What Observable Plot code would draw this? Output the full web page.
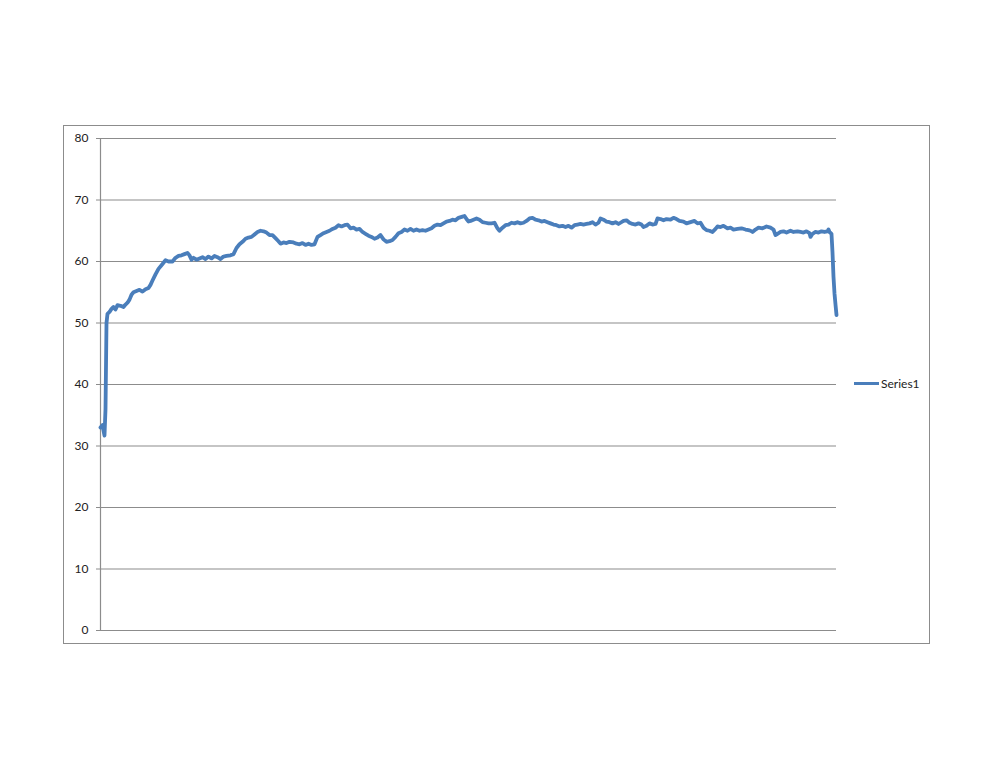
<!DOCTYPE html>
<html>
<head>
<meta charset="utf-8">
<script src="https://cdn.jsdelivr.net/npm/d3@7"></script>
<script src="https://cdn.jsdelivr.net/npm/@observablehq/plot@0.6"></script>
<style>
  html, body { margin: 0; padding: 0; background: #fff; }
  #wrap { position: relative; width: 993px; height: 768px; overflow: hidden; }
  #frame { position: absolute; left: 63px; top: 125px; width: 865px; height: 517px; border: 1px solid #8c8c8c; box-sizing: content-box; pointer-events: none; }
  #legend { position: absolute; left: 854px; top: 376px; font: 12px Lato, "Open Sans", sans-serif; color: #222; display: flex; align-items: center; }
  #legend .sw { display: inline-block; width: 25px; height: 3.5px; background: #4a7ebb; margin-right: 2px; }
  #chart { position: absolute; left: 0; top: 0; }
</style>
</head>
<body>
<div id="wrap">
  <div id="chart"></div>
  <div id="frame"></div>
  <div id="legend"><span class="sw"></span><span>Series1</span></div>
</div>
<script>
const seriesName = "Series1";
const yTicks = [0, 10, 20, 30, 40, 50, 60, 70, 80];
const samples = [0,2,3,4,5,6,7,9,11,13,15,17,20,23,25,27,29,31,33,36,39,42,45,48,50,52,55,58,61,65,68,72,75,78,81,84,87,89,91,93,96,99,102,105,108,111,114,117,120,123,126,130,133,136,139,142,145,148,151,154,157,160,163,166,169,172,175,178,180,183,186,189,193,196,199,202,205,208,211,214,217,220,223,226,229,232,235,238,241,244,247,250,253,256,259,262,265,268,271,274,277,280,283,286,289,292,295,298,301,304,307,310,313,316,319,322,325,328,331,334,337,340,343,346,349,352,355,358,362,364,366,368,370,373,376,379,382,385,388,391,394,397,399,402,405,408,411,414,417,420,423,426,429,432,435,438,441,444,447,450,453,456,459,462,465,468,471,474,477,480,483,486,489,492,495,498,500,503,506,509,512,515,518,520,523,526,529,532,535,538,541,543,546,549,552,555,557,560,563,566,570,573,576,579,583,586,590,594,597,600,603,606,609,612,615,617,620,623,627,630,633,637,641,645,648,650,652,655,658,662,666,670,673,675,677,680,683,686,690,693,697,700,703,706,709,710,712,715,718,721,724,727,728,729,731,732,733,734,735,736];
const values = [33.0,33.4,32.5,31.7,36,50,51.5,51.8,52.3,52.6,52.2,52.9,52.8,52.6,53.0,53.3,53.8,54.6,55.0,55.2,55.4,55.1,55.5,55.7,56.2,56.9,57.9,58.8,59.4,60.2,60.0,60.0,60.6,60.9,61.0,61.2,61.4,61.0,60.3,60.6,60.3,60.5,60.7,60.4,60.8,60.5,60.9,60.7,60.4,60.8,60.9,61.0,61.2,62.2,62.8,63.2,63.7,63.9,64.0,64.4,64.8,65.0,64.9,64.7,64.3,64.3,63.8,63.3,62.9,63.1,63.0,63.2,63.1,62.9,62.8,63.0,62.7,62.9,62.7,62.8,64.0,64.3,64.6,64.8,65.0,65.3,65.5,65.9,65.7,65.9,66.0,65.4,65.5,65.2,65.3,64.8,64.5,64.2,64.0,63.7,63.9,64.3,63.6,63.2,63.3,63.5,64.0,64.6,64.8,65.2,65.0,65.3,65.0,65.2,65.0,65.1,65.0,65.2,65.4,65.8,66.0,65.9,66.2,66.5,66.6,66.8,66.7,67.1,67.3,67.4,66.9,66.5,66.6,66.8,67.0,66.8,66.4,66.3,66.2,66.2,66.3,65.4,65.0,65.5,65.9,66.0,66.3,66.2,66.4,66.2,66.3,66.6,67.0,67.1,66.8,66.7,66.5,66.6,66.4,66.2,66.0,65.9,65.7,65.8,65.6,65.8,65.5,65.9,66.0,66.1,66.0,66.1,66.2,66.4,66.0,66.3,67.0,66.8,66.5,66.4,66.2,66.4,66.1,66.3,66.6,66.7,66.3,66.1,66.0,66.2,66.0,65.6,65.8,66.2,66.0,66.1,67.0,66.9,66.7,66.9,66.8,67.1,66.9,66.6,66.5,66.2,66.4,66.6,66.2,66.3,65.5,65.1,65.0,64.8,65.3,65.7,65.6,65.8,65.4,65.5,65.2,65.3,65.4,65.2,65.1,65.0,64.8,65.2,65.5,65.4,65.7,65.5,65.2,64.3,64.5,64.8,64.9,64.7,65.0,64.8,64.9,64.8,64.7,64.9,64.6,64.0,64.5,64.8,64.7,64.9,64.8,64.9,65.2,64.8,64.5,61.5,57.5,54.8,53.0,51.3];

const data = samples.map((s, i) => ({sample: s, value: values[i]}));

const chart = Plot.plot({
  width: 993,
  height: 768,
  marginLeft: 100,
  marginRight: 157,
  marginTop: 138,
  marginBottom: 138,
  style: { fontFamily: "Lato, 'Open Sans', sans-serif", fontSize: "12px", color: "#222", background: "transparent" },
  x: { domain: [0, 736], axis: null },
  y: { domain: [0, 80], ticks: yTicks, label: null },
  marks: [
    Plot.ruleY(yTicks, { stroke: "#8c8c8c", strokeWidth: 1.2, strokeOpacity: 1 }),
    Plot.ruleX([0], { stroke: "#8c8c8c", strokeWidth: 1.2, strokeOpacity: 1 }),
    Plot.axisY({ ticks: yTicks, tickSize: 4, tickPadding: 8, stroke: "#8c8c8c", label: null, fontSize: 12 }),
    Plot.line(data, { x: "sample", y: "value", stroke: "#4a7ebb", strokeWidth: 3.8, strokeLinejoin: "round", strokeLinecap: "round" })
  ]
});
document.getElementById("chart").appendChild(chart);
</script>
</body>
</html>
